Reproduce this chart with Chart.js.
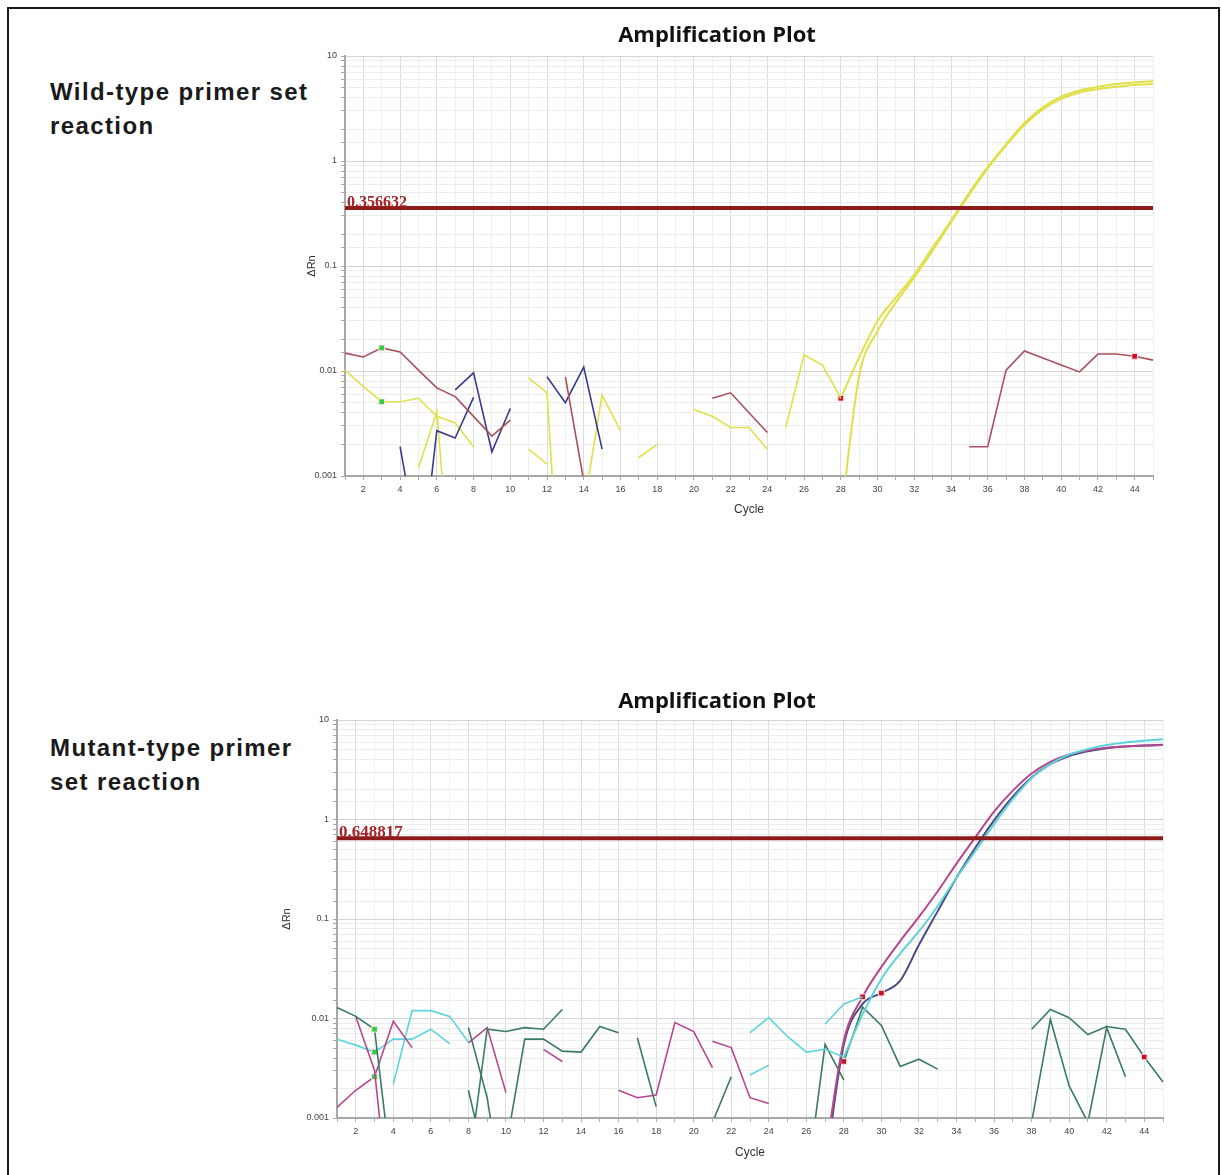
<!DOCTYPE html>
<html>
<head>
<meta charset="utf-8">
<script src="https://cdn.jsdelivr.net/npm/chart.js@4.4.1/dist/chart.umd.min.js"></script>
<style>
  html, body { margin: 0; padding: 0; background: #fff; overflow: hidden; }
  body { width: 1222px; height: 1175px; position: relative; font-family: "Liberation Sans", Arial, sans-serif; }
  #frame { position: absolute; left: 7px; top: 7px; width: 1209px; height: 1200px; border: 2px solid #1a1a1a; }
  .side { position: absolute; left: 50px; font-size: 24px; font-weight: bold; color: #1a1a1a; line-height: 34px; letter-spacing: 1.4px; }
  .plot { position: absolute; }
</style>
</head>
<body>
<div id="frame"></div>
<div class="side" style="top:75px">Wild-type primer set<br>reaction</div>
<div class="side" style="top:731px">Mutant-type primer<br>set reaction</div>
<div class="plot" style="left:281px; top:12px"><canvas id="wt" width="883" height="514"></canvas></div>
<div class="plot" style="left:271px; top:678px"><canvas id="mt" width="901" height="490"></canvas></div>

<script>
// cycles on the x axis
const cycles = Array.from({length: 45}, (_, i) => i + 1);

// thresholds
const wtThreshold = 0.356632;
const mtThreshold = 0.648817;

// colours
const yellow = "#e0e04a";
const rose = "#a8505c";
const blue = "#3b3b8e";
const cyan = "#5fd3da";
const magenta = "#b5478f";
const green = "#3a7a62";
const navy = "#4b4b82";
const startMark = "#2ecc40";
const ctMark = "#c8102e";

//wild-type reaction (values from the first cycle given)
const wtRoseA = [0.0148, 0.0136, 0.0166, 0.0152, 0.0102, 0.0069, 0.0057, 0.0037, 0.0024, 0.0034]; // from 1
const wtRoseB = [0.0088, 0.0009]; // from 13
const wtRoseC = [0.0055, 0.0062, 0.0040, 0.0026]; // from 21
const wtRoseD = [0.0019, 0.0019, 0.0102, 0.0155, 0.0133, 0.0114, 0.0098, 0.0145, 0.0145, 0.0138, 0.0127]; // from 35
const wtBlueA = [0.0019, 0.0002]; // from 4
const wtBlueB = [0.00008, 0.0027, 0.0023, 0.0056]; // from 5
const wtBlueC = [0.0066, 0.0096, 0.0017, 0.0044]; // from 7
const wtBlueD = [0.0088, 0.0050, 0.0109, 0.0018]; // from 12
const wtYelA = [0.0102, 0.0071, 0.0051, 0.0051, 0.0055, 0.0037, 0.0032, 0.0019]; // from 1
const wtYelB = [0.0012, 0.0041, 0.00003]; // from 5
const wtYelC = [0.0086, 0.0062, 0.00001]; // from 11
const wtYelD = [0.0018, 0.0013]; // from 11
const wtYelE = [0.0005, 0.0059, 0.0027]; // from 14
const wtYelF = [0.0015, 0.0020]; // from 17
const wtYelG = [0.0043, 0.0037, 0.0029, 0.0029, 0.0018]; // from 20
const wtYelH = [0.0029, 0.0142, 0.0114, 0.0055]; // from 25
const wtYelS1 = [0.0055, 0.0135, 0.030, 0.050, 0.083, 0.15, 0.27, 0.50,
                 0.88, 1.45, 2.3, 3.25, 4.1, 4.7, 5.1, 5.4, 5.6, 5.75]; // from 28
const wtYelS2 = [0.0004, 0.009, 0.024, 0.045, 0.078, 0.14, 0.26, 0.48, 0.85, 1.4, 2.2, 3.1,
                 3.9, 4.5, 4.85, 5.1, 5.3, 5.4]; // from 28

//mutant-type reaction
const mtGreenA = [0.0129, 0.0105, 0.0078, 0.0002]; // from 1
const mtMagA = [0.0105, 0.0030, 0.00005]; // from 2
const mtMagB = [0.00128, 0.0019, 0.0026, 0.0094, 0.0051]; // from 1
const mtCyanA = [0.0062, 0.0054, 0.0046, 0.0062, 0.0062, 0.0078, 0.0056]; // from 1
const mtCyanB = [0.0022, 0.012, 0.012, 0.0105, 0.0058]; // from 4
const mtGreenB = [0.0081, 0.0016, 0.0001]; // from 8
const mtGreenC = [0.0019, 0.0003]; // from 8
const mtGreenD = [0.0003, 0.0078, 0.0074, 0.0081, 0.0078, 0.0123]; // from 8
const mtMagC = [0.0057, 0.0081, 0.0018]; // from 8
const mtGreenE = [0.0005, 0.0062, 0.0062, 0.0047, 0.0046, 0.0083, 0.0072]; // from 10
const mtMagD = [0.0049, 0.0037]; // from 12
const mtGreenF = [0.0064, 0.0013]; // from 17
const mtMagE = [0.0019, 0.0016, 0.0017, 0.0091, 0.0074, 0.0032]; // from 16
const mtMagF = [0.0059, 0.0051, 0.0016, 0.0014]; // from 21
const mtGreenG = [0.0009, 0.0026]; // from 21
const mtCyanC = [0.0027, 0.0034]; // from 23
const mtCyanD = [0.0072, 0.0102, 0.0066, 0.0046, 0.0049, 0.0041]; // from 23
const mtCyanS = [0.0041, 0.011, 0.025, 0.045, 0.075, 0.135, 0.26, 0.48, 0.9, 1.6, 2.6, 3.6,
                 4.5, 5.1, 5.6, 5.95, 6.2, 6.4]; // from 28
const mtCyanE = [0.0088, 0.014, 0.0165]; // from 27
const mtMagS = [0.0004, 0.006, 0.0165, 0.033, 0.06, 0.105, 0.19, 0.36, 0.66, 1.2, 1.95, 2.9,
                3.8, 4.5, 4.95, 5.25, 5.45, 5.55, 5.6]; // from 27
const mtNavyS = [0.0003, 0.0055, 0.014, 0.018, 0.024, 0.055, 0.12, 0.26, 0.52, 0.98, 1.7, 2.65,
                 3.6, 4.35, 4.85, 5.2, 5.4, 5.55, 5.65]; // from 27
const mtGreenH = [0.0002, 0.0055, 0.0024]; // from 26
const mtGreenI = [0.0037, 0.013, 0.0085, 0.0033, 0.0039, 0.0031]; // from 28
const mtGreenJ = [0.0078, 0.0123, 0.0102, 0.0069, 0.0083, 0.0078, 0.0041, 0.0023]; // from 38
const mtGreenK = [0.0009, 0.0098, 0.0021, 0.0009, 0.0081, 0.0026]; // from 38

function pad(start, values) {
  return cycles.map(c => (c >= start && c < start + values.length) ? values[c - start] : null);
}

function series(start, values, color, marks, smooth) {
  const m = marks || {};
  return {
    data: pad(start, values),
    borderColor: color,
    borderWidth: smooth ? 2 : 1.6,
    cubicInterpolationMode: smooth ? "monotone" : "default",
    tension: 0,
    pointStyle: "rect",
    pointRadius: ctx => m[cycles[ctx.dataIndex]] ? 4 : 0,
    pointBackgroundColor: ctx => m[cycles[ctx.dataIndex]] || color,
    pointBorderColor: "#ffdede",
    pointBorderWidth: 1
  };
}

function thresholdLine(value) {
  return { data: cycles.map(() => value), borderColor: "#8e1b1b", borderWidth: 4, pointRadius: 0 };
}

const thresholdLabel = {
  id: "thresholdLabel",
  afterDatasetsDraw(chart, args, opts) {
    const y = chart.scales.y.getPixelForValue(opts.value);
    const ctx = chart.ctx;
    ctx.save();
    ctx.font = "bold " + opts.size + "px 'Liberation Serif'";
    ctx.fillStyle = "#a3262a";
    ctx.textBaseline = "alphabetic";
    ctx.fillText(String(opts.value), chart.chartArea.left + 2, y - 1);
    ctx.restore();
  }
};

Chart.defaults.font.family = "'Liberation Sans', Arial, sans-serif";

function makeChart(id, datasets, threshold, L) {
  return new Chart(document.getElementById(id), {
    type: "line",
    data: { labels: cycles, datasets: [thresholdLine(threshold)].concat(datasets) },
    options: {
      responsive: false,
      animation: false,
      spanGaps: false,
      layout: { padding: { left: 0, right: L.padRight, top: 0, bottom: 0 } },
      plugins: {
        legend: { display: false },
        tooltip: { enabled: false },
        title: {
          display: true,
          text: "Amplification Plot",
          color: "#111",
          font: { family: "'Open Sans'", size: 22, weight: "bold" },
          padding: { top: 10.8, bottom: L.titleBottom }
        },
        thresholdLabel: { value: threshold, size: L.labelSize }
      },
      scales: {
        x: {
          type: "category",
          afterFit: s => { s.height = 50; },
          grid: {
            color: ctx => cycles[ctx.index] % 2 === 0 ? "#dcdcdc" : "#efefef",
            tickLength: 4,
            tickColor: "#aaa"
          },
          border: { color: "#a8a8a8", width: 2 },
          ticks: {
            autoSkip: false,
            maxRotation: 0,
            padding: 4,
            color: "#444",
            font: { size: 9 },
            callback: (v, i) => cycles[i] % 2 === 0 ? cycles[i] : ""
          },
          title: { display: true, text: "Cycle", color: "#333", font: { size: 12 }, padding: { top: 0, bottom: L.xTitlePad } }
        },
        y: {
          type: "logarithmic",
          min: 0.001,
          max: 10,
          afterFit: s => { s.width = L.axisWidth; },
          grid: {
            color: ctx => {
              const l = Math.log10(ctx.tick.value);
              return Math.abs(l - Math.round(l)) < 1e-9 ? "#d4d4d4" : "#ececec";
            },
            tickLength: 4,
            tickColor: "#aaa"
          },
          border: { color: "#a8a8a8", width: 2 },
          ticks: {
            autoSkip: false,
            padding: 4,
            color: "#444",
            font: { size: 9 },
            callback: v => {
              const l = Math.log10(v);
              return Math.abs(l - Math.round(l)) < 1e-9 ? String(v) : "";
            }
          },
          title: { display: true, text: "ΔRn", color: "#333", font: { size: 11 }, padding: { top: L.yTitlePad, bottom: 0 } }
        }
      }
    },
    plugins: [thresholdLabel]
  });
}

makeChart("wt", [
  series(1, wtRoseA, rose, {3: startMark}),
  series(13, wtRoseB, rose),
  series(21, wtRoseC, rose),
  series(35, wtRoseD, rose, {44: ctMark}),
  series(4, wtBlueA, blue),
  series(5, wtBlueB, blue),
  series(7, wtBlueC, blue),
  series(12, wtBlueD, blue),
  series(1, wtYelA, yellow, {3: startMark}),
  series(5, wtYelB, yellow),
  series(11, wtYelC, yellow),
  series(11, wtYelD, yellow),
  series(14, wtYelE, yellow),
  series(17, wtYelF, yellow),
  series(20, wtYelG, yellow),
  series(25, wtYelH, yellow),
  series(28, wtYelS1, yellow, {28: ctMark}, true),
  series(28, wtYelS2, yellow, null, true)
], wtThreshold, { padRight: 11, axisWidth: 64, titleBottom: 6.8, yTitlePad: 24, xTitlePad: 9, labelSize: 16 });

makeChart("mt", [
  series(1, mtGreenA, green, {3: startMark}),
  series(2, mtMagA, magenta),
  series(1, mtMagB, magenta, {3: startMark}),
  series(1, mtCyanA, cyan, {3: startMark}),
  series(4, mtCyanB, cyan),
  series(8, mtGreenB, green),
  series(8, mtGreenC, green),
  series(8, mtGreenD, green),
  series(8, mtMagC, magenta),
  series(10, mtGreenE, green),
  series(12, mtMagD, magenta),
  series(17, mtGreenF, green),
  series(16, mtMagE, magenta),
  series(21, mtMagF, magenta),
  series(21, mtGreenG, green),
  series(23, mtCyanC, cyan),
  series(23, mtCyanD, cyan),
  series(28, mtCyanS, cyan, null, true),
  series(27, mtCyanE, cyan),
  series(27, mtMagS, magenta, {29: ctMark}, true),
  series(27, mtNavyS, navy, {30: ctMark}, true),
  series(26, mtGreenH, green),
  series(28, mtGreenI, green, {28: ctMark}),
  series(38, mtGreenJ, green, {44: ctMark}),
  series(38, mtGreenK, green)
], mtThreshold, { padRight: 9, axisWidth: 66, titleBottom: 4.8, yTitlePad: 9, xTitlePad: 8, labelSize: 17 });
</script>
</body>
</html>
